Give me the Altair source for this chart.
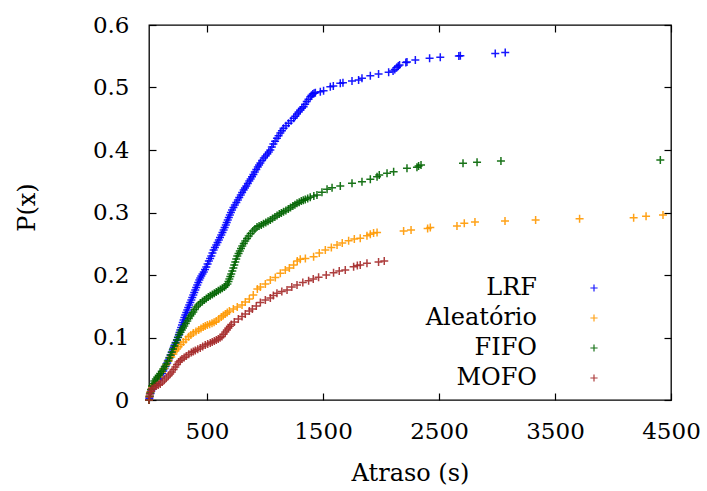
import altair as alt
import pandas as pd

# ---------------- data ----------------
series = ["LRF", "Aleatório", "FIFO", "MOFO"]
colors = ["#0000ff", "#ff9900", "#006400", "#a52a2a"]

lrf_x = [0, 3, 7, 13, 20, 28, 37, 48, 59, 71, 83, 92, 102, 112, 123, 134, 145, 157, 169, 178,
         188, 196, 205, 213, 222, 231, 241, 249, 257, 263, 270, 277, 284, 291, 298, 305, 313,
         321, 330, 338, 347, 356, 365, 373, 382, 390, 399, 407, 416, 425, 434, 442, 451, 461,
         472, 483, 494, 505, 516, 527, 537, 547, 557, 568, 580, 591, 602, 612, 623, 633, 643,
         652, 662, 670, 679, 688, 697, 706, 716, 728, 740, 753, 766, 778, 791, 803, 816, 827,
         839, 852, 865, 876, 888, 900, 912, 925, 938, 949, 960, 975, 990, 1005, 1020, 1033,
         1046, 1059, 1072, 1087, 1103, 1117, 1132, 1146, 1160, 1181, 1203, 1225, 1247, 1261,
         1276, 1290, 1304, 1318, 1333, 1346, 1360, 1375, 1391, 1401, 1412, 1423, 1434,
         1477, 1505, 1563, 1589, 1649, 1672, 1750, 1807, 1836, 1908, 1979, 2066, 2104, 2119,
         2138, 2149, 2160, 2214, 2224, 2296, 2419, 2511, 2671, 2684, 2985, 3071]
lrf_p = [0, 0.003, 0.0064, 0.0104, 0.0144, 0.0176, 0.0208, 0.0236, 0.0264, 0.0292, 0.032,
         0.0352, 0.0384, 0.0424, 0.0464, 0.0504, 0.0544, 0.0592, 0.064, 0.068, 0.072, 0.076,
         0.08, 0.084, 0.088, 0.092, 0.096, 0.1, 0.104, 0.108, 0.112, 0.116, 0.12, 0.124, 0.128,
         0.132, 0.136, 0.14, 0.144, 0.148, 0.152, 0.156, 0.16, 0.164, 0.168, 0.172, 0.176, 0.18,
         0.184, 0.188, 0.192, 0.1952, 0.1984, 0.2016, 0.2048, 0.2088, 0.2128, 0.2176, 0.2224,
         0.2264, 0.2304, 0.2352, 0.24, 0.244, 0.248, 0.252, 0.256, 0.26, 0.264, 0.268, 0.272,
         0.276, 0.28, 0.284, 0.288, 0.292, 0.296, 0.3, 0.304, 0.308, 0.312, 0.316, 0.32, 0.324,
         0.328, 0.332, 0.336, 0.3392, 0.3424, 0.3464, 0.3504, 0.3538, 0.3573, 0.361, 0.3648,
         0.3688, 0.3728, 0.376, 0.3792, 0.3832, 0.3872, 0.3904, 0.3936, 0.3968, 0.40, 0.4048,
         0.4096, 0.4141, 0.4187, 0.4229, 0.4272, 0.431, 0.4347, 0.4387, 0.4427, 0.4467, 0.4507,
         0.4541, 0.4576, 0.4608, 0.464, 0.4667, 0.4693, 0.4734, 0.4776, 0.4814, 0.4853, 0.4875,
         0.4896, 0.4907, 0.4917,
         0.4933, 0.4949, 0.5013, 0.5024, 0.5067, 0.5077, 0.5104, 0.512, 0.5147, 0.5189, 0.5216,
         0.5243, 0.5264, 0.5288, 0.5323, 0.5344, 0.536, 0.54, 0.5408, 0.544, 0.5467, 0.5483,
         0.5504, 0.5509, 0.5544, 0.556]

ale_x = [0, 5, 11, 19, 28, 45, 63, 87, 112, 130, 149, 170, 192, 210, 227, 241, 255, 275, 296,
         318, 341, 361, 382, 405, 428, 448, 468, 485, 503, 523, 543, 561, 580, 601, 623, 640,
         658, 675, 693, 727, 761, 802, 830, 865, 899, 934, 960, 1003, 1046, 1089, 1132, 1175,
         1210, 1247, 1278, 1304, 1348, 1419, 1468, 1520, 1572, 1621, 1666, 1721, 1770, 1821,
         1879, 1908, 1936, 1966, 2195, 2259, 2402, 2425, 2655, 2718, 2810, 3069, 3333, 3712,
         4178, 4285, 4431]
ale_p = [0, 0.0064, 0.0128, 0.0168, 0.0208, 0.0248, 0.0288, 0.0368, 0.0448, 0.0504, 0.056,
         0.0624, 0.0688, 0.0736, 0.0784, 0.0818, 0.0853, 0.089, 0.0928, 0.097, 0.1013, 0.1042,
         0.1072, 0.1096, 0.112, 0.1144, 0.1168, 0.1184, 0.12, 0.1214, 0.1227, 0.1246, 0.1264,
         0.1296, 0.1328, 0.1352, 0.1376, 0.14, 0.1424, 0.1456, 0.1488, 0.152, 0.1568, 0.1616,
         0.168, 0.1776, 0.1808, 0.1856, 0.192, 0.196, 0.2027, 0.208, 0.2112, 0.216, 0.2224,
         0.2251, 0.2264, 0.2293, 0.2352, 0.24, 0.244, 0.248, 0.2512, 0.2549, 0.2576, 0.2587,
         0.2629, 0.2651, 0.2672, 0.268, 0.2704, 0.272, 0.2744, 0.276, 0.2784, 0.2827, 0.2848,
         0.2864, 0.288, 0.2901, 0.2917, 0.2939, 0.296]

fifo_x = [0, 5, 11, 18, 26, 36, 46, 59, 72, 84, 97, 110, 123, 136, 149, 162, 175, 186, 197,
          207, 218, 229, 241, 251, 261, 272, 283, 293, 304, 317, 330, 343, 356, 369, 382, 395,
          408, 425, 442, 460, 477, 494, 511, 528, 546, 563, 580, 597, 615, 632, 650, 663, 676,
          685, 693, 701, 709, 718, 727, 735, 744, 752, 761, 772, 783, 793, 804, 817, 830, 845,
          860, 877, 895, 913, 931, 949, 968, 987, 1007, 1026, 1046, 1065, 1085, 1104, 1123,
          1141, 1160, 1180, 1201, 1220, 1240, 1258, 1276, 1295, 1313, 1330, 1347, 1368, 1390,
          1421, 1448, 1491, 1535, 1578, 1649, 1750, 1836, 1908, 1966, 1985, 2052, 2109, 2224,
          2310, 2324, 2345, 2707, 2828, 3034, 4408]
fifo_p = [0, 0.0056, 0.0112, 0.0168, 0.0224, 0.0264, 0.0304, 0.0336, 0.0368, 0.0396, 0.0424,
          0.046, 0.0496, 0.0536, 0.0576, 0.0624, 0.0672, 0.072, 0.0768, 0.0816, 0.0864, 0.0912,
          0.096, 0.1004, 0.1048, 0.1084, 0.112, 0.1152, 0.1184, 0.1224, 0.1264, 0.1304, 0.1344,
          0.1376, 0.1408, 0.1448, 0.1488, 0.152, 0.1552, 0.1576, 0.16, 0.1624, 0.1648, 0.1668,
          0.1688, 0.1708, 0.1728, 0.1748, 0.1768, 0.1788, 0.1808, 0.1832, 0.1856, 0.1896,
          0.1936, 0.1976, 0.2016, 0.2064, 0.2112, 0.216, 0.2208, 0.2256, 0.2304, 0.2344, 0.2384,
          0.2424, 0.2464, 0.2504, 0.2544, 0.2584, 0.2624, 0.2664, 0.2704, 0.2736, 0.2768,
          0.2784, 0.28, 0.282, 0.284, 0.286, 0.288, 0.2904, 0.2928, 0.2952, 0.2976, 0.2994,
          0.3013, 0.3034, 0.3056, 0.308, 0.3104, 0.3126, 0.3147, 0.3166, 0.3184, 0.3196,
          0.3208, 0.3226, 0.3243, 0.3264, 0.328, 0.3323, 0.3371, 0.3397, 0.3424, 0.3467,
          0.3493, 0.3531, 0.3573, 0.36, 0.3627, 0.3653, 0.3707, 0.3723, 0.3744, 0.376, 0.3787,
          0.3803, 0.3824, 0.384]

mofo_x = [0, 3, 7, 16, 26, 44, 63, 80, 97, 114, 132, 149, 166, 182, 198, 212, 227, 241, 255,
          270, 284, 303, 322, 343, 365, 382, 399, 420, 442, 463, 485, 506, 528, 545, 563, 580,
          597, 613, 629, 643, 658, 671, 684, 697, 710, 735, 770, 802, 830, 865, 891, 925, 960,
          1003, 1046, 1072, 1103, 1145, 1190, 1231, 1276, 1326, 1376, 1416, 1462, 1528, 1591,
          1640, 1692, 1764, 1796, 1821, 1879, 1979, 2028]
mofo_p = [0, 0.005, 0.0096, 0.0136, 0.0176, 0.02, 0.0224, 0.024, 0.0256, 0.0288, 0.032,
          0.0352, 0.0384, 0.0416, 0.0448, 0.0488, 0.0528, 0.0568, 0.0608, 0.0632, 0.0656,
          0.068, 0.0704, 0.0732, 0.076, 0.0776, 0.0792, 0.0812, 0.0832, 0.0856, 0.088, 0.0896,
          0.0912, 0.0928, 0.0944, 0.096, 0.0976, 0.0996, 0.1016, 0.1052, 0.1088, 0.112, 0.1152,
          0.118, 0.1208, 0.1248, 0.1296, 0.1336, 0.1376, 0.1424, 0.1456, 0.1504, 0.156, 0.16,
          0.1632, 0.1672, 0.1707, 0.1736, 0.176, 0.1808, 0.184, 0.188, 0.1909, 0.1936, 0.1963,
          0.2, 0.2037, 0.2064, 0.208, 0.2133, 0.2152, 0.216, 0.2187, 0.2208, 0.2224]

x_ticks = [500, 1500, 2500, 3500, 4500]
y_ticks = [0, 0.1, 0.2, 0.3, 0.4, 0.5, 0.6]

# ---------------- table ----------------
rows = []
for i, (name, xs, ps) in enumerate(zip(series, [lrf_x, ale_x, fifo_x, mofo_x],
                                       [lrf_p, ale_p, fifo_p, mofo_p])):
    for a, b in zip(xs, ps):
        rows.append({"serie": name, "atraso": a, "p": b, "ordem": i})
df = pd.DataFrame(rows)

# ---------------- chart ----------------
W, H = 522, 375
FONT = "DejaVu Serif"
FS_TICK = 23
FS_TEXT = 24
PLUS = "M-1,0H1M0,-1V1"

xs = alt.Scale(domain=[0, 4500], nice=False, zero=False)
ys = alt.Scale(domain=[0, 0.6], nice=False, zero=False)

base = alt.Chart(df)

main = base.mark_point(shape=PLUS, filled=False, size=64, strokeWidth=1.5, opacity=0.9).encode(
    x=alt.X("atraso:Q", scale=xs,
            axis=alt.Axis(orient="bottom", values=x_ticks, format="d", ticks=False,
                          domain=False, grid=False, labelFont=FONT, labelFontSize=FS_TICK,
                          labelColor="black", labelPadding=20, labelFlush=False,
                          title="Atraso (s)", titleFont=FONT, titleFontSize=FS_TEXT,
                          titleFontWeight="normal", titleColor="black",
                          titleBaseline="alphabetic", titleX=W / 2, titleY=80)),
    y=alt.Y("p:Q", scale=ys,
            axis=alt.Axis(orient="left", values=y_ticks, format=".1~f", ticks=False,
                          domain=False, grid=False, labelFont=FONT, labelFontSize=FS_TICK,
                          labelColor="black", labelPadding=20, labelFlush=False,
                          title="P(x)", titleFont=FONT, titleFontSize=FS_TEXT,
                          titleFontWeight="normal", titleColor="black",
                          titleBaseline="alphabetic", titleX=-115, titleY=182)),
    color=alt.Color("serie:N", scale=alt.Scale(domain=series, range=colors),
                    legend=alt.Legend(orient="none", legendX=433, legendY=251, title=None,
                                      labelFont=FONT, labelFontSize=FS_TEXT, labelColor="black",
                                      labelAlign="right", labelOffset={"expr": "-69"},
                                      symbolType=PLUS, symbolSize=52, symbolStrokeWidth=1.2,
                                      rowPadding=6, padding=0)),
    order=alt.Order("ordem:Q"),
)

tick_style = dict(labels=False, domain=False, grid=False, ticks=True, tickSize=7,
                  tickColor="black", tickWidth=1.2, title=None)

ticks_a = base.mark_point(opacity=0).encode(
    x=alt.X("atraso:Q", scale=xs, axis=alt.Axis(orient="top", offset=-H, values=x_ticks, **tick_style)),
    y=alt.Y("p:Q", scale=ys, axis=alt.Axis(orient="right", offset=-W, values=y_ticks, **tick_style)),
)
ticks_b = base.mark_point(opacity=0).encode(
    x=alt.X("atraso:Q", scale=xs, axis=alt.Axis(orient="bottom", offset=-H, values=x_ticks, **tick_style)),
    y=alt.Y("p:Q", scale=ys, axis=alt.Axis(orient="left", offset=-W, values=y_ticks, **tick_style)),
)

chart = alt.layer(main, ticks_a, ticks_b).resolve_axis(
    x="independent", y="independent"
).properties(
    width=W, height=H,
    autosize=alt.AutoSizeParams(type="none"),
    padding={"left": 149, "top": 25, "right": 36, "bottom": 91},
    background="white",
).configure_view(stroke="black", strokeWidth=1.3)

chart.save("out.html", embed_options={"renderer": "svg", "actions": False})
